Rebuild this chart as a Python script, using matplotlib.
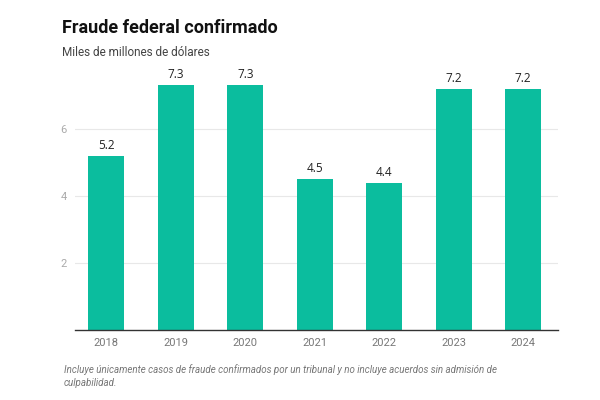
import matplotlib
matplotlib.use("Agg")
import matplotlib.pyplot as plt

years = ["2018", "2019", "2020", "2021", "2022", "2023", "2024"]
values = [5.2, 7.3, 7.3, 4.5, 4.4, 7.2, 7.2]
yticks = [2, 4, 6]

plt.rcParams['font.family'] = ['Roboto', 'DejaVu Sans']

fig = plt.figure(figsize=(6, 4), dpi=100)
ax = fig.add_axes([0.125, 0.175, 0.805, 0.67])
x = list(range(len(years)))
bars = ax.bar(x, values, width=0.52, color="#0BBD9E", zorder=2)
for xi, v in zip(x, values):
    ax.text(xi, v + 0.12, f"{v}", ha="center", va="bottom", fontsize=8.5,
            color="#222222", family=["Open Sans", "DejaVu Sans"])

ax.set_xlim(-0.45, 6.5)
ax.set_ylim(0, 8)
ax.set_xticks(x)
ax.set_xticklabels(years, fontsize=8, color="#777777")
ax.set_yticks(yticks)
ax.set_yticklabels([str(t) for t in yticks], fontsize=8, color="#aaaaaa")
ax.tick_params(axis="both", length=0)
ax.tick_params(axis="x", pad=6)
ax.tick_params(axis="y", pad=6)
ax.grid(axis="y", color="#e8e8e8", linewidth=0.8, zorder=0)
for s in ["top", "right", "left"]:
    ax.spines[s].set_visible(False)
ax.spines["bottom"].set_color("#333333")
ax.spines["bottom"].set_linewidth(1.0)

fig.text(62/600, 1-28/400, "Fraude federal confirmado", fontsize=13, fontweight="bold",
         color="#111111", va="center", ha="left")
fig.text(62/600, 1-53/400, "Miles de millones de dólares", fontsize=8.5,
         color="#444444", va="center", ha="left")
fig.text(64/600, 1-376/400,
         "Incluye únicamente casos de fraude confirmados por un tribunal y no incluye acuerdos sin admisión de\nculpabilidad.",
         fontsize=7, style="italic", color="#777777", va="center", ha="left", linespacing=1.3)

fig.savefig("out.png", dpi=100)
